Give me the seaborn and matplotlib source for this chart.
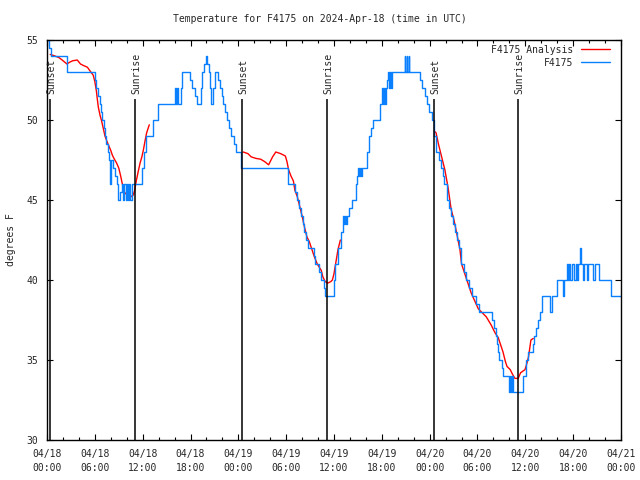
import pandas as pd
import seaborn as sns
import matplotlib
matplotlib.use("Agg")
import matplotlib.pyplot as plt
from matplotlib.ticker import MultipleLocator

# hours since 2024-04-18 00:00 UTC; observed temps change at these times (step data)
obs_hours = [0.0, 0.2, 0.45, 2.5, 6.0, 6.15, 6.4, 6.6, 6.75, 6.95, 7.15, 7.3, 7.45, 7.6, 7.75,
             7.95, 8.05, 8.3, 8.55, 8.75, 8.85, 9.1, 9.4, 9.55, 9.7, 9.85, 10.0, 10.15, 10.3,
             10.4, 10.6, 11.95, 12.2, 12.45, 13.3, 13.9, 16.05, 16.15, 16.3, 16.4, 16.75, 16.95,
             17.95, 18.2, 18.55, 18.8, 19.3, 19.45, 19.7, 19.95, 20.05, 20.3, 20.45, 20.6, 20.85,
             21.1, 21.5, 21.7, 21.9, 22.1, 22.35, 22.6, 22.85, 23.1, 23.45, 23.75, 24.3, 30.2,
             31.1, 31.35, 31.6, 31.85, 32.05, 32.25, 32.5, 32.7, 33.45, 33.65, 34.15, 34.35,
             34.7, 34.9, 36.0, 36.15, 36.45, 36.9, 37.1, 37.2, 37.35, 37.45, 37.6,
             37.9, 38.2, 38.75, 38.9, 39.0, 39.1, 39.25, 39.35, 39.5, 40.2, 40.45, 40.7,
             40.9, 41.8, 42.0, 42.12, 42.25, 42.37, 42.5, 42.65, 42.8, 42.92, 43.05, 43.17, 43.3,
             44.85, 44.95, 45.1, 45.2, 45.35, 45.45, 46.8, 47.0, 47.45, 47.65, 47.9, 48.25, 48.55,
             48.85, 49.2, 49.45, 49.65, 49.85, 50.15, 50.45, 50.65, 50.95, 51.15, 51.45, 51.65,
             51.9, 52.35, 52.55, 52.95, 53.35, 53.85, 54.25, 55.8, 56.05, 56.3, 56.45, 56.6,
             56.75, 57.05, 57.2, 57.95, 58.05, 58.2, 58.3, 58.45, 59.75, 60.1, 60.3, 60.9,
             61.1, 61.3, 61.55, 61.85, 62.15, 63.15, 63.3, 64.0, 64.7, 64.85, 65.2, 65.35, 65.5,
             65.65, 65.8, 66.15, 66.3, 66.45, 66.6, 66.85, 67.0, 67.2, 67.4, 67.75, 67.9, 68.5,
             68.7, 69.3, 70.7, 72.0]
obs_temps = [55, 54.5, 54, 53, 52.5, 52, 51.5, 51, 50.5, 50, 49.5, 49, 48.5, 48, 47.5,
             46, 47.5, 47, 46.5, 46, 45, 45.5, 46, 45, 46, 45, 46, 45, 46,
             45, 46, 47, 48, 49, 50, 51, 52, 51, 52, 51, 52, 53,
             52.5, 52, 51.5, 51, 52, 53, 53.5, 54, 53.5, 53, 52, 51, 52,
             53, 52.5, 52, 51.5, 51, 50.5, 50, 49.5, 49, 48.5, 48, 47, 46,
             45.5, 45, 44.5, 44, 43.5, 43, 42.5, 42, 41.5, 41, 40.5, 40,
             39.5, 39, 40, 41, 42, 43, 44, 43.5, 44, 43.5, 44,
             44.5, 45, 46, 46.5, 47, 46.5, 47, 46.5, 47, 48, 49, 49.5,
             50, 51, 52, 51, 52, 51, 52, 52.5, 53, 52, 53, 52, 53,
             54, 53, 54, 53, 54, 53, 52.5, 52, 51.5, 51, 50.5, 50, 49,
             48, 47.5, 47, 46.5, 46, 45, 44.5, 44, 43.5, 43, 42.5, 42,
             41, 40.5, 40, 39.5, 39, 38.5, 38, 37.5, 37, 36.5, 36, 35.5,
             35, 34.5, 34, 33, 34, 33, 34, 33, 34, 35, 35.5, 36,
             36.5, 37, 37.5, 38, 39, 38, 39, 40, 39, 40, 41, 40, 41,
             40, 41, 40, 41, 40, 41, 42, 41, 40, 41, 40, 41, 40,
             41, 40, 39, 39]

# analysis runs (three nightly segments)
ana1_hours = [0.4, 1.0, 1.5, 1.9, 2.5, 2.8, 3.2, 3.8, 4.2, 4.6, 5.06, 5.5, 5.8, 6.0, 6.2, 6.3,
              6.44, 6.65, 6.82, 7.05, 7.27, 7.57, 8.0, 8.2, 8.4, 8.74, 9.0, 9.24, 9.45, 9.66,
              10.1, 10.5, 10.8, 11.0, 11.2, 11.45, 11.67, 11.9, 12.08, 12.3, 12.5, 12.83]
ana1_temps = [54.1, 54.0, 53.9, 53.75, 53.5, 53.6, 53.7, 53.75, 53.5, 53.4, 53.3, 53.0, 52.8,
              52.4, 51.8, 51.35, 50.8, 50.3, 50.0, 49.5, 49.0, 48.6, 48.1, 47.8, 47.6, 47.3,
              47.0, 46.5, 46.0, 45.5, 45.3, 45.2, 45.3, 45.6, 46.2, 46.8, 47.3, 47.7, 48.1,
              48.7, 49.2, 49.7]
ana2_hours = [24.6, 25.2, 25.6, 26.2, 26.8, 27.3, 27.8, 28.3, 28.7, 29.3, 29.9, 30.1, 30.3, 30.6,
              30.9, 31.1, 31.4, 31.7, 32.0, 32.3, 32.6, 32.9, 33.1, 33.5, 33.9, 34.4, 34.6,
              34.9, 35.2, 35.6, 35.8, 36.0, 36.2, 36.5, 36.8]
ana2_temps = [48.0, 47.9, 47.7, 47.6, 47.55, 47.4, 47.2, 47.7, 48.0, 47.9, 47.75, 47.4, 46.9,
              46.5, 46.2, 45.6, 45.2, 44.6, 44.0, 43.3, 42.7, 42.4, 42.1, 41.5, 41.0, 40.6,
              40.2, 39.9, 39.8, 39.9, 40.0, 40.4, 41.0, 41.9, 42.5]
ana3_hours = [48.6, 48.8, 49.1, 49.4, 49.9, 50.3, 50.7, 51.05, 51.4, 51.8, 52.0, 52.4, 52.8,
              53.2, 53.6, 54.1, 54.5, 55.1, 55.7, 56.2, 56.6, 56.8, 57.0, 57.2, 57.5, 57.7,
              58.1, 58.4, 58.7, 59.1, 59.4, 59.96, 60.2, 60.4, 60.7, 61.0]
ana3_temps = [49.3, 49.2, 48.5, 47.9, 46.9, 45.8, 44.4, 43.75, 42.9, 41.9, 41.0, 40.4, 39.8,
              39.2, 38.75, 38.2, 38.0, 37.7, 37.2, 36.7, 36.4, 36.1, 35.8, 35.5, 34.9, 34.6,
              34.4, 34.1, 33.85, 33.85, 34.2, 34.4, 34.8, 35.2, 36.25, 36.35]

sun_hours = [0.38, 11.05, 24.47, 35.14, 48.57, 59.1]
sun_labels = ["Sunset", "Sunrise", "Sunset", "Sunrise", "Sunset", "Sunrise"]

xtick_hours = list(range(0, 73, 6))
xtick_labels = ["04/18\n00:00", "04/18\n06:00", "04/18\n12:00", "04/18\n18:00",
                "04/19\n00:00", "04/19\n06:00", "04/19\n12:00", "04/19\n18:00",
                "04/20\n00:00", "04/20\n06:00", "04/20\n12:00", "04/20\n18:00",
                "04/21\n00:00"]

obs = pd.DataFrame({"hour": obs_hours, "temp": obs_temps})
ana = pd.concat([
    pd.DataFrame({"hour": h, "temp": t, "run": i})
    for i, (h, t) in enumerate([(ana1_hours, ana1_temps), (ana2_hours, ana2_temps),
                                (ana3_hours, ana3_temps)])
])

sns.set_style("ticks")
plt.rcParams["font.family"] = ["DejaVu Sans Mono"]
plt.rcParams["font.size"] = 7

fig = plt.figure(figsize=(6.4, 4.8), dpi=100)
ax = fig.add_axes([47 / 640, 40 / 480, 574 / 640, 400 / 480])

sns.lineplot(data=ana, x="hour", y="temp", units="run", estimator=None, sort=False,
             color="#ff0000", lw=1.0, label="F4175 Analysis", ax=ax)
sns.lineplot(data=obs, x="hour", y="temp", estimator=None, sort=False,
             drawstyle="steps-post", color="#0a80ff", lw=1.0, label="F4175", ax=ax)

ax.vlines(sun_hours, 30, 51.3, color="black", lw=1.1)
for h, lab in zip(sun_hours, sun_labels):
    ax.text(h + 0.12, 51.65, lab, rotation=90, ha="center", va="bottom", fontsize=7)

ax.set_xlim(0, 72)
ax.set_ylim(30, 55)
ax.set_xticks(xtick_hours)
ax.set_xticklabels(xtick_labels)
for t in ax.get_xticklabels():
    t.set_linespacing(1.55)
ax.xaxis.set_minor_locator(MultipleLocator(2))
ax.set_yticks(range(30, 56, 5))
ax.tick_params(which="both", direction="in", top=True, right=True, color="black",
               labelsize=7, pad=6.5)
ax.tick_params(which="major", length=4, width=0.8)
ax.tick_params(which="minor", length=2.5, width=0.8)
for s in ax.spines.values():
    s.set_color("black")
    s.set_linewidth(1.0)

ax.set_xlabel("")
ax.set_ylabel("")
fig.text(11 / 640, 0.5, "degrees F", rotation=90, ha="center", va="center", fontsize=7)
fig.text(0.5, 1 - 19 / 480, "Temperature for F4175 on 2024-Apr-18 (time in UTC)",
         ha="center", va="center", fontsize=7)

handles, labels = ax.get_legend_handles_labels()
uniq = dict(zip(labels, handles))
ax.legend(uniq.values(), uniq.keys(), loc="upper right", bbox_to_anchor=(1.0, 1.015),
          frameon=False, markerfirst=False, handlelength=3.0, handletextpad=0.8,
          labelspacing=0.3, borderaxespad=0.7, fontsize=7)

fig.savefig("out.png", dpi=100)
